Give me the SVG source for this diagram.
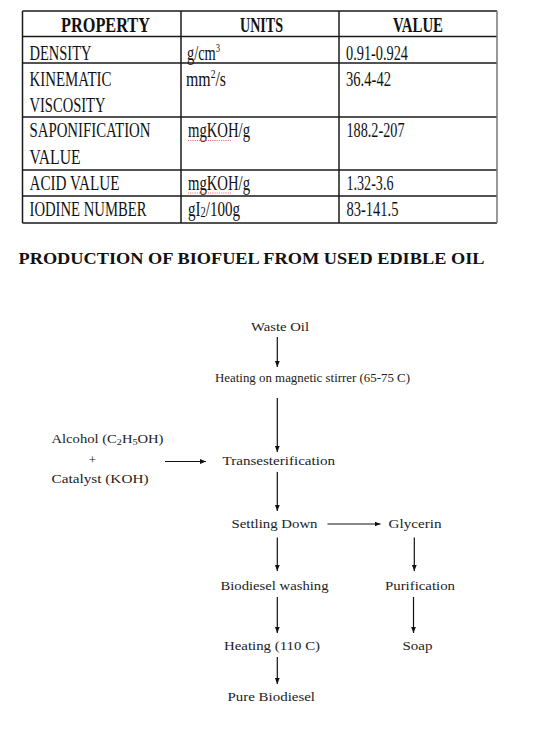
<svg xmlns="http://www.w3.org/2000/svg" width="546" height="732" viewBox="0 0 546 732">
<defs>
<style>
.tl{fill:none;stroke:#1a1a1a;stroke-width:1.5}
.tg{fill:none;stroke:#777;stroke-width:1.5}
.th{font-family:"Liberation Serif","Times New Roman",serif;font-weight:bold;font-size:21px;fill:#111}
.td{font-family:"Liberation Serif","Times New Roman",serif;font-size:20px;fill:#111}
.title{font-family:"Liberation Serif","Times New Roman",serif;font-weight:bold;font-size:17px;fill:#111}
.fc{font-family:"Liberation Serif","Times New Roman",serif;font-size:13px;fill:#222}
.cn{fill:none;stroke:#111;stroke-width:1.2}
.sq{fill:none;stroke:#e05050;stroke-width:0.8;stroke-dasharray:1.2 1}
</style>
<marker id="ah" viewBox="0 0 10 10" refX="10" refY="5" markerWidth="6" markerHeight="6" markerUnits="userSpaceOnUse" orient="auto">
<path d="M0,1 L10,5 L0,9 Z" fill="#111"/>
</marker>
</defs>
<rect width="546" height="732" fill="#fff"/>

<g id="table">
<line class="tl" x1="22.5" y1="11" x2="497" y2="11"/>
<line class="tl" x1="22.5" y1="36.5" x2="497" y2="36.5"/>
<line class="tl" x1="22.5" y1="63" x2="497" y2="63"/>
<line class="tl" x1="22.5" y1="117" x2="497" y2="117"/>
<line class="tl" x1="22.5" y1="170" x2="497" y2="170"/>
<line class="tl" x1="22.5" y1="196" x2="497" y2="196"/>
<line class="tl" x1="22.5" y1="223" x2="497" y2="223"/>
<line class="tl" x1="22.5" y1="11" x2="22.5" y2="223"/>
<line class="tl" x1="181" y1="11" x2="181" y2="223"/>
<line class="tl" x1="339" y1="11" x2="339" y2="223"/>
<line class="tg" x1="497" y1="11" x2="497" y2="223"/>

<text class="th" x="61" y="31.5" textLength="89" lengthAdjust="spacingAndGlyphs">PROPERTY</text>
<text class="th" x="240" y="31.5" textLength="43" lengthAdjust="spacingAndGlyphs">UNITS</text>
<text class="th" x="393" y="31.5" textLength="50" lengthAdjust="spacingAndGlyphs">VALUE</text>

<text class="td" x="29.5" y="60" textLength="62" lengthAdjust="spacingAndGlyphs">DENSITY</text>
<text class="td" x="187" y="60" textLength="33" lengthAdjust="spacingAndGlyphs">g/cm<tspan font-size="12" baseline-shift="8">3</tspan></text>
<text class="td" x="346" y="60" textLength="62" lengthAdjust="spacingAndGlyphs">0.91-0.924</text>

<text class="td" x="29.5" y="86" textLength="82" lengthAdjust="spacingAndGlyphs">KINEMATIC</text>
<text class="td" x="29.5" y="111.5" textLength="76" lengthAdjust="spacingAndGlyphs">VISCOSITY</text>
<text class="td" x="186" y="86" textLength="40" lengthAdjust="spacingAndGlyphs">mm<tspan font-size="12" baseline-shift="8">2</tspan>/s</text>
<text class="td" x="346" y="86" textLength="45" lengthAdjust="spacingAndGlyphs">36.4-42</text>

<text class="td" x="29.5" y="137" textLength="121" lengthAdjust="spacingAndGlyphs">SAPONIFICATION</text>
<text class="td" x="29.5" y="163.5" textLength="51" lengthAdjust="spacingAndGlyphs">VALUE</text>
<text class="td" x="188" y="137" textLength="62" lengthAdjust="spacingAndGlyphs">mgKOH/g</text>
<path class="sq" d="M188,140.5 L231,140.5"/>
<text class="td" x="346.5" y="137" textLength="58" lengthAdjust="spacingAndGlyphs">188.2-207</text>

<text class="td" x="29.5" y="189.5" textLength="90" lengthAdjust="spacingAndGlyphs">ACID VALUE</text>
<text class="td" x="188" y="189.5" textLength="62" lengthAdjust="spacingAndGlyphs">mgKOH/g</text>
<path class="sq" d="M188,193 L231,193"/>
<text class="td" x="346.5" y="189.5" textLength="47" lengthAdjust="spacingAndGlyphs">1.32-3.6</text>

<text class="td" x="29.5" y="216" textLength="117" lengthAdjust="spacingAndGlyphs">IODINE NUMBER</text>
<text class="td" x="188" y="216" textLength="52" lengthAdjust="spacingAndGlyphs">gI<tspan font-size="14" baseline-shift="-1">2</tspan>/100g</text>
<text class="td" x="346.5" y="216" textLength="52" lengthAdjust="spacingAndGlyphs">83-141.5</text>
</g>

<text class="title" x="18.5" y="263.5" textLength="466" lengthAdjust="spacingAndGlyphs">PRODUCTION OF BIOFUEL FROM USED EDIBLE OIL</text>

<g id="connectors">
<line class="cn" x1="277.3" y1="337" x2="277.3" y2="367" marker-end="url(#ah)"/>
<line class="cn" x1="277.3" y1="398" x2="277.3" y2="452" marker-end="url(#ah)"/>
<line class="cn" x1="165" y1="461.5" x2="206" y2="461.5" marker-end="url(#ah)"/>
<line class="cn" x1="277.3" y1="472" x2="277.3" y2="511" marker-end="url(#ah)"/>
<line class="cn" x1="327.5" y1="524" x2="380.5" y2="524" marker-end="url(#ah)"/>
<line class="cn" x1="277.3" y1="537.5" x2="277.3" y2="571" marker-end="url(#ah)"/>
<line class="cn" x1="414.3" y1="537.5" x2="414.3" y2="571" marker-end="url(#ah)"/>
<line class="cn" x1="277.3" y1="597" x2="277.3" y2="633" marker-end="url(#ah)"/>
<line class="cn" x1="413.5" y1="597" x2="413.5" y2="633" marker-end="url(#ah)"/>
<line class="cn" x1="277.3" y1="657" x2="277.3" y2="684" marker-end="url(#ah)"/>
</g>

<g id="waste-oil"><text class="fc" x="251" y="330.5" textLength="58" lengthAdjust="spacingAndGlyphs">Waste Oil</text></g>
<g id="heating-stirrer"><text class="fc" x="215" y="381.5" textLength="195" lengthAdjust="spacingAndGlyphs">Heating on magnetic stirrer (65-75 C)</text></g>
<g id="alcohol-catalyst">
<text class="fc" x="51.5" y="442.5" textLength="112" lengthAdjust="spacingAndGlyphs">Alcohol (C<tspan font-size="9" baseline-shift="-2">2</tspan>H<tspan font-size="9" baseline-shift="-2">5</tspan>OH)</text>
<text class="fc" x="92.5" y="464" text-anchor="middle">+</text>
<text class="fc" x="51.5" y="482.5" textLength="97" lengthAdjust="spacingAndGlyphs">Catalyst (KOH)</text>
</g>
<g id="transesterification"><text class="fc" x="222.5" y="465" textLength="112.5" lengthAdjust="spacingAndGlyphs">Transesterification</text></g>
<g id="settling-down"><text class="fc" x="231.5" y="528" textLength="86" lengthAdjust="spacingAndGlyphs">Settling Down</text></g>
<g id="glycerin"><text class="fc" x="388.5" y="528" textLength="53" lengthAdjust="spacingAndGlyphs">Glycerin</text></g>
<g id="biodiesel-washing"><text class="fc" x="220.5" y="590" textLength="108" lengthAdjust="spacingAndGlyphs">Biodiesel washing</text></g>
<g id="purification"><text class="fc" x="385" y="590" textLength="70" lengthAdjust="spacingAndGlyphs">Purification</text></g>
<g id="heating-110"><text class="fc" x="224" y="649.5" textLength="96" lengthAdjust="spacingAndGlyphs">Heating (110 C)</text></g>
<g id="soap"><text class="fc" x="402.5" y="649.5" textLength="30" lengthAdjust="spacingAndGlyphs">Soap</text></g>
<g id="pure-biodiesel"><text class="fc" x="227.5" y="700.5" textLength="87.5" lengthAdjust="spacingAndGlyphs">Pure Biodiesel</text></g>
</svg>
